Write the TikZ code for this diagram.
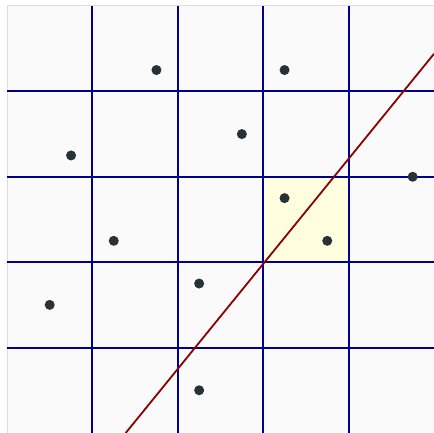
\documentclass[tikz,border=0pt]{standalone}
\definecolor{bgc}{HTML}{FAFAFA}
\definecolor{gridc}{HTML}{00008B}
\definecolor{cellc}{HTML}{FFFFE0}
\definecolor{linec}{HTML}{8B0000}
\definecolor{dotc}{HTML}{263238}
\definecolor{framec}{HTML}{DDDDDD}
\tikzset{
  gridline/.style={draw=gridc, line width=1pt},
  splitline/.style={draw=linec, line width=0.9pt},
  pt/.style={circle, fill=dotc, inner sep=0pt, minimum size=0.176cm}
}
\begin{document}
\begin{tikzpicture}[x=1.5cm,y=1.5cm]
\useasboundingbox (-0.082,0) rectangle (5,5.07);
\fill[white] (-0.082,0) rectangle (5,5.07);
\fill[bgc] (0,0) rectangle (5,5);
\fill[cellc] (3,2) rectangle (4,3);
\draw[framec, line width=0.5pt] (0,0) -- (0,5) -- (5,5);
\foreach \i in {1,2,3,4} {
  \draw[gridline] (\i,0) -- (\i,5);
  \draw[gridline] (0,\i) -- (5,\i);
}
\coordinate (lstart) at (1.39,0);
\coordinate (lend) at (5,4.44);
\draw[splitline] (lstart) -- (lend);
\node[pt] (p1) at (1.75,4.25) {};
\node[pt] (p2) at (3.25,4.25) {};
\node[pt] (p3) at (2.75,3.5) {};
\node[pt] (p4) at (0.75,3.25) {};
\node[pt] (p5) at (4.75,3) {};
\node[pt] (p6) at (3.25,2.75) {};
\node[pt] (p7) at (3.75,2.25) {};
\node[pt] (p8) at (1.25,2.25) {};
\node[pt] (p9) at (2.25,1.75) {};
\node[pt] (p10) at (0.5,1.5) {};
\node[pt] (p11) at (2.25,0.5) {};
\end{tikzpicture}
\end{document}
